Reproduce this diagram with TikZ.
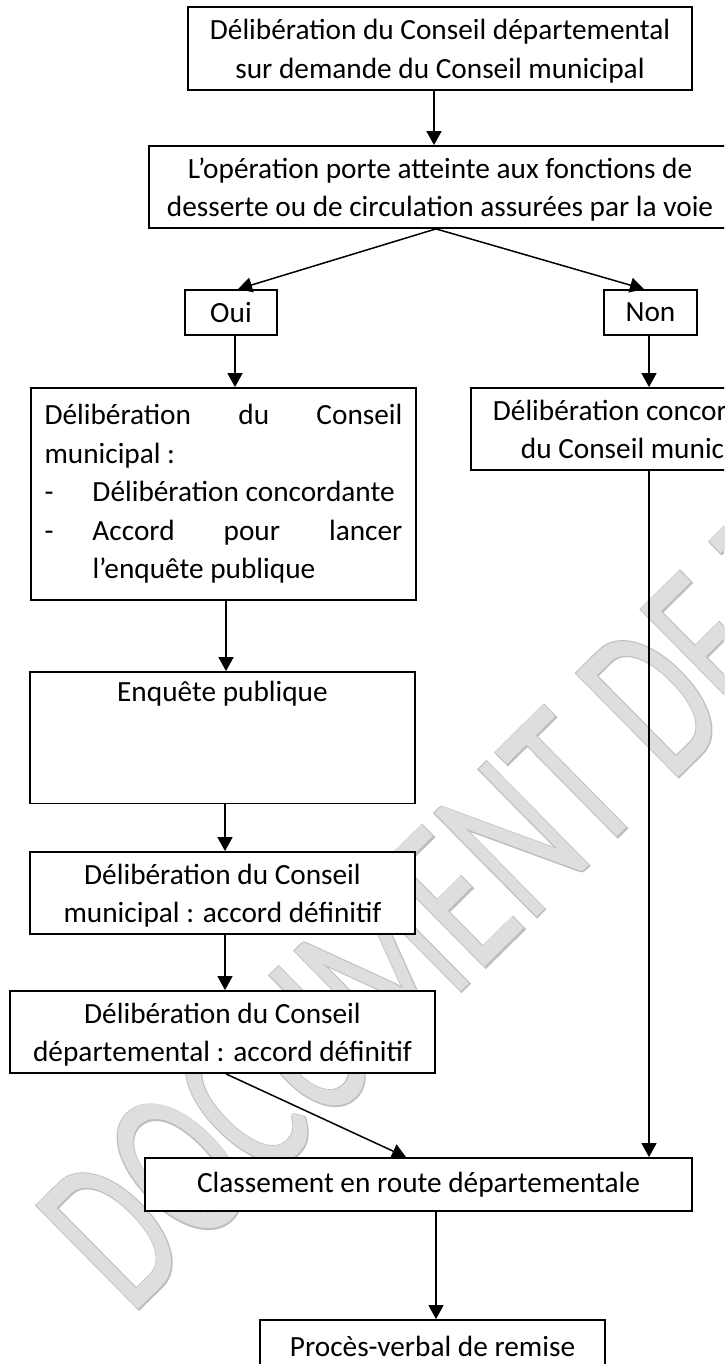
\documentclass[tikz,border=0pt]{standalone}
\usepackage{fontspec}
\setmainfont{Carlito}
\newfontfamily\wmoutline{Carlito}[RawFeature={embolden=1.2}]
\usetikzlibrary{arrows.meta,calc}
\definecolor{wmgray}{gray}{0.87}
\definecolor{wmline}{gray}{0.74}
\newcommand\mainfs{\fontsize{29.3}{38.5}\selectfont}
\newcommand\tstrut{\rule{0pt}{26pt}}
\tikzset{
  box/.style={draw=black, line width=1.8pt, fill=white, inner sep=0pt, align=center, font=\mainfs},
  arr/.style={line width=1.5pt, -{Triangle[length=14pt,width=15pt]}},
  wmark/.style={anchor=base west, rotate=44.6, xscale=0.648, inner sep=0pt},
}
\begin{document}
\begin{tikzpicture}[x=1pt,y=-1pt]
\useasboundingbox (0,0) rectangle (724,1364);
\clip (0,0) rectangle (724,1364);
% watermark
\node[wmark, text=wmline, font=\wmoutline\fontsize{227}{227}\selectfont] (wmo) at (131.5,1316.5) {DOCUMENT DE TRAVAIL};
\node[wmark, text=wmgray, font=\fontsize{227}{227}\selectfont] (wm) at (131.5,1316.5) {DOCUMENT DE TRAVAIL};
% boxes
\node[box, minimum width=504pt, minimum height=83pt] (top) at (440,48.5)
  {\tstrut Délibération du Conseil départemental\\sur demande du Conseil municipal};
\node[box, minimum width=582pt, minimum height=82pt] (q) at (440,187)
  {\tstrut L’opération porte atteinte aux fonctions de\\desserte ou de circulation assurées par la voie};
\node[box, minimum width=92pt, minimum height=45pt] (oui) at (231,312.5) {Oui};
\node[box, minimum width=93pt, minimum height=45pt] (non) at (650.5,312.5) {Non};
\node[box, minimum width=385pt, minimum height=212pt, text width=358pt, align=justify] (l1) at (223.5,494)
  {\hyphenpenalty=10000 \exhyphenpenalty=10000 \noindent Délibération du Conseil municipal~:\par
   \hangindent=48pt\hangafter=1\noindent\makebox[48pt][l]{-}Délibération concordante\par
   \hangindent=48pt\hangafter=1\noindent\makebox[48pt][l]{-}Accord pour lancer l’enquête publique\par};
\node[box, minimum width=346pt, minimum height=82pt] (r) at (644,429)
  {\tstrut Délibération concordante\\du Conseil municipal};
\node[box, minimum width=385pt, minimum height=131.5pt] (enq) at (222.5,737.75) {};
\node[font=\mainfs, inner sep=0pt] (enqt) at (222.5,694) {Enquête publique};
\node[box, minimum width=385pt, minimum height=82pt] (cm) at (222.5,893)
  {\tstrut Délibération du Conseil\\municipal~: accord définitif};
\node[box, minimum width=425pt, minimum height=82pt] (cd) at (222.5,1032)
  {\tstrut Délibération du Conseil\\départemental~: accord définitif};
\node[box, minimum width=547pt, minimum height=53pt] (cls) at (418.5,1184.5)
  {Classement en route départementale};
\node[box, minimum width=345pt, minimum height=53pt] (proc) at (432.5,1346.5)
  {Procès-verbal de remise};
% connectors
\draw[arr] ([xshift=-6pt]top.south) -- ([xshift=-6pt]top.south |- q.north);
\draw[arr] ([xshift=-4pt]q.south) -- ([xshift=7pt]oui.north);
\draw[arr] ([xshift=-4pt]q.south) -- ([xshift=-6.5pt]non.north);
\draw[arr] ([xshift=4pt]oui.south) -- ([xshift=4pt]oui.south |- l1.north);
\draw[arr] ([xshift=-1.5pt]non.south) -- ([xshift=-1.5pt]non.south |- r.north);
\draw[arr] ([xshift=2.5pt]l1.south) -- ([xshift=2.5pt]l1.south |- enq.north);
\draw[arr] ([xshift=2.5pt]enq.south) -- ([xshift=2.5pt]enq.south |- cm.north);
\draw[arr] ([xshift=2.5pt]cm.south) -- ([xshift=2.5pt]cm.south |- cd.north);
\draw[arr] ([xshift=3.5pt]cd.south) -- ([xshift=-12.5pt]cls.north);
\draw[arr] ([xshift=5pt]r.south) -- ([xshift=5pt]r.south |- cls.north);
\draw[arr] ([xshift=17.5pt]cls.south) -- ([xshift=17.5pt]cls.south |- proc.north);
\end{tikzpicture}
\end{document}
